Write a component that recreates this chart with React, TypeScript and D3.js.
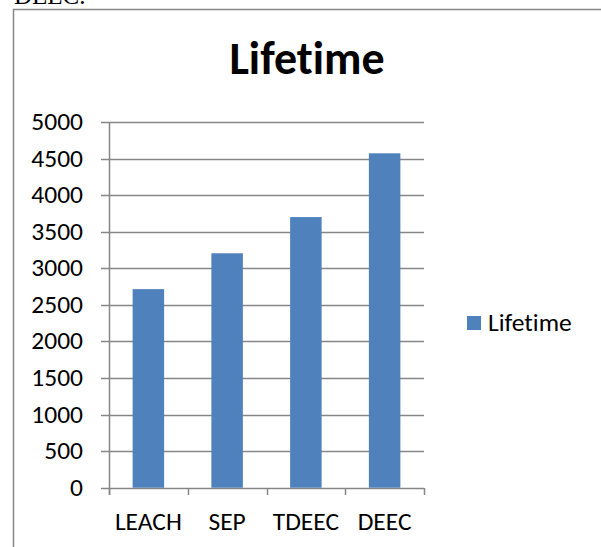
import React from "react";
import * as d3 from "d3";

const categories = ["LEACH", "SEP", "TDEEC", "DEEC"];
const lifetime = [2715, 3205, 3700, 4572];
const yTicks = [0, 500, 1000, 1500, 2000, 2500, 3000, 3500, 4000, 4500, 5000];
const seriesName = "Lifetime";
const chartTitle = "Lifetime";

const W = 601;
const H = 547;
const FONT = "Carlito, Calibri, 'Open Sans', sans-serif";
const BAR = "#4F81BD";
const GRID = "#868686";
const FS = 25.5;
const noLig = { fontVariantLigatures: "none" as const, fontFeatureSettings: "'liga' 0, 'clig' 0" };

export default function App() {
  const x = d3.scaleBand<string>().domain(categories).range([109, 424]).paddingInner(0.6).paddingOuter(0.3);
  const xEdges = d3.scaleLinear().domain([0, categories.length]).range([109, 424]);
  const y = d3.scaleLinear().domain([0, 5000]).range([487.7, 122]);
  return (
    <svg width={W} height={H} style={{ position: "absolute", left: 0, top: 0 }}>
      <rect width={W} height={H} fill="#fff" />
      <text x={14} y={4} fontFamily="'Liberation Serif', 'Times New Roman', serif" fontSize={25} fill="#000">DEEC.</text>
      <path d={`M13.5,${H} V9.5 H${W}`} fill="none" stroke="#868686" strokeWidth={1.5} />
      <text x={307} y={74} textAnchor="middle" fontFamily={FONT} fontWeight="bold" fontSize={46} fill="#000" style={noLig}>{chartTitle}</text>
      {yTicks.map((t) => (
        <g key={t}>
          <line x1={101} x2={424} y1={Math.round(y(t)) + 0.5} y2={Math.round(y(t)) + 0.5} stroke={GRID} strokeWidth={1.5} />
          <text x={83} y={y(t) + 8} textAnchor="end" fontFamily={FONT} fontSize={FS} fill="#000">{t}</text>
        </g>
      ))}
      {categories.map((c, i) => (
        <rect key={c} x={x(c)} y={y(lifetime[i])} width={x.bandwidth()} height={y(0) - y(lifetime[i])} fill={BAR} />
      ))}
      <line x1={109.5} x2={109.5} y1={122} y2={495} stroke={GRID} strokeWidth={1.5} />
      {d3.range(categories.length + 1).map((i) => (
        <line key={i} x1={Math.round(xEdges(i)) + 0.5} x2={Math.round(xEdges(i)) + 0.5} y1={488} y2={495} stroke={GRID} strokeWidth={1.5} />
      ))}
      {categories.map((c) => (
        <text key={c} x={(x(c) as number) + x.bandwidth() / 2} y={530} textAnchor="middle" fontFamily={FONT} fontSize={FS} fill="#000">{c}</text>
      ))}
      <rect x={467} y={316} width={14} height={14} fill={BAR} />
      <text x={488} y={331} fontFamily={FONT} fontSize={FS} fill="#000" style={noLig}>{seriesName}</text>
    </svg>
  );
}
